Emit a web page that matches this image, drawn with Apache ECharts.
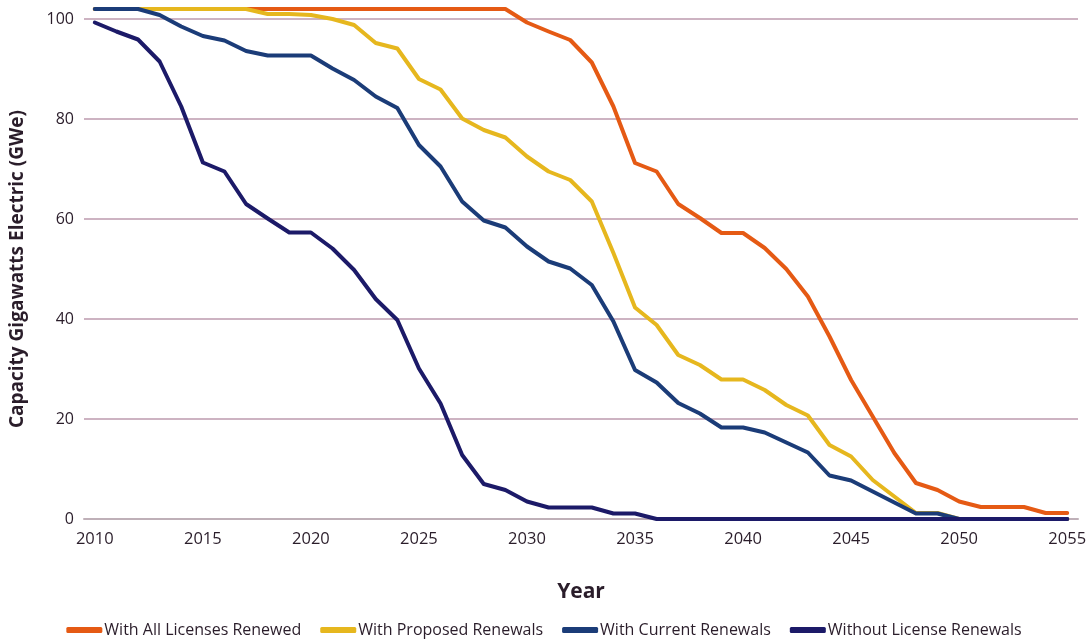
<!DOCTYPE html>
<html>
<head>
<meta charset="utf-8">
<script src="https://cdn.jsdelivr.net/npm/echarts@6/dist/echarts.min.js"></script>
<style>
html,body{margin:0;padding:0;background:#fff;}
#chart{width:1088px;height:642px;}
</style>
</head>
<body>
<div id="chart"></div>
<script>
const years = [];
for (let y = 2010; y <= 2055; y++) years.push(String(y));

const allRenewed = [102,102,102,102,102,102,102,102,102,102,102,102,102,102,102,102,102,102,102,102,
  99.3,97.5,95.8,91.3,82.5,71.2,69.5,63,60.2,57.2,57.2,54.2,50,44.5,36.5,27.8,20.5,13.2,7.2,5.8,3.5,2.4,2.4,2.4,1.2,1.2];
const proposed = [102,102,102,102,102,102,102,102,
  101,101,100.8,100,98.8,95.2,94.1,88,85.9,80.1,77.8,76.3,72.5,69.5,67.8,63.5,53.2,42.3,38.8,32.8,30.8,27.9,27.9,25.8,22.8,20.7,14.8,12.5,7.8,4.5,1.2,1.2,
  0,0,0,0,0,0];
const current = [102,102,102,
  100.8,98.5,96.6,95.7,93.6,92.7,92.7,92.7,90.1,87.8,84.5,82.2,74.8,70.5,63.5,59.7,58.3,54.5,51.5,50.1,46.8,39.5,29.8,27.3,23.2,21.1,18.3,18.3,17.3,15.3,13.3,8.7,7.7,5.5,3.3,1.1,1.1,
  0,0,0,0,0,0];
const without = [99.3,97.5,95.9,91.5,82.5,71.3,69.5,63,60.1,57.3,57.3,54.1,49.8,44,39.8,30.1,23.1,12.8,7,5.8,3.5,2.3,2.3,2.3,1.1,1.1,
  0,0,0,0,0,0,0,0,0,0,0,0,0,0,0,0,0,0,0,0];

const seriesNames = ['With All Licenses Renewed','With Proposed Renewals','With Current Renewals','Without License Renewals'];
const seriesData = [allRenewed, proposed, current, without];
const colors = ['#E55A14','#E6B71E','#1B3C78','#1C1A68'];

const FONT = '"Open Sans", "Noto Sans", sans-serif';
const TXT = '#2a1d2a';

const chart = echarts.init(document.getElementById('chart'));
chart.setOption({
  animation: false,
  color: colors,
  grid: {left: 84, right: 10, top: 19, bottom: 123, containLabel: false, outerBoundsMode: 'none'},
  legend: {
    bottom: -1,
    left: 'center',
    itemWidth: 36,
    itemHeight: 6,
    itemGap: 19,
    icon: 'roundRect',
    textStyle: {fontFamily: FONT, fontSize: 16, color: TXT, padding: [0,0,0,-3]},
    data: seriesNames
  },
  xAxis: {
    type: 'category',
    data: years,
    boundaryGap: true,
    name: 'Year',
    nameLocation: 'middle',
    nameGap: 63,
    nameTextStyle: {fontFamily: FONT, fontSize: 21, fontWeight: 'bold', color: TXT},
    axisTick: {show: false},
    axisLine: {show: true, lineStyle: {color: '#bfb0b8', width: 2}},
    axisLabel: {interval: 4, margin: 12, fontFamily: FONT, fontSize: 16.5, color: TXT},
    splitLine: {show: false}
  },
  yAxis: {
    type: 'value',
    min: 0,
    max: 100,
    interval: 20,
    name: 'Capacity Gigawatts Electric (GWe)',
    nameLocation: 'middle',
    nameGap: 57,
    nameTextStyle: {fontFamily: FONT, fontSize: 19, fontWeight: 'bold', color: TXT},
    axisLine: {show: false},
    axisTick: {show: false},
    axisLabel: {margin: 10, fontFamily: FONT, fontSize: 16, color: TXT},
    splitLine: {lineStyle: {color: '#cdb3c2', width: 2}}
  },
  series: seriesNames.map((n, i) => ({
    name: n,
    type: 'line',
    data: seriesData[i],
    symbol: 'none',
    clip: false,
    lineStyle: {width: 4, color: colors[i], join: 'round', cap: 'round'}
  }))
});
</script>
</body>
</html>
